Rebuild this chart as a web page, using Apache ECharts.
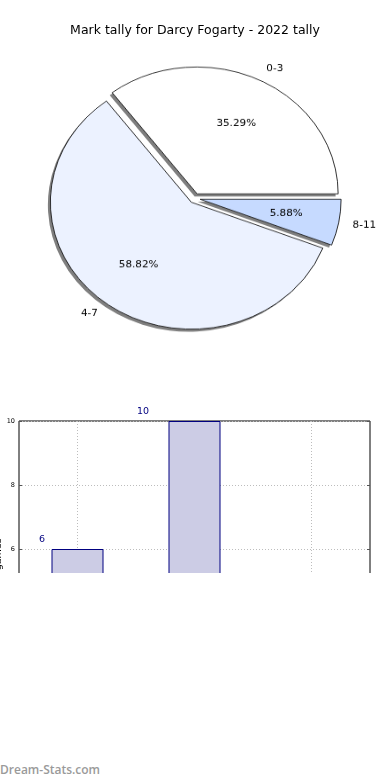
<!DOCTYPE html>
<html><head><meta charset="utf-8">
<script src="https://cdn.jsdelivr.net/npm/echarts@6/dist/echarts.min.js"></script>
<style>
html,body{margin:0;padding:0;background:#fff;width:390px;height:780px;overflow:hidden;}
#bar{position:absolute;left:0;top:0;width:390px;height:573px;}
#pie{position:absolute;left:0;top:0;width:390px;height:400px;transform:scaleY(0.9);transform-origin:195px 198.3px;}
#wm{position:absolute;left:0;top:762px;font-family:'Open Sans';font-weight:600;font-size:12px;color:#9a9a9a;line-height:16px;}
</style></head><body>
<div id="bar"></div><div id="pie"></div><div id="wm">Dream-Stats.com</div>
<script>
// ---- data ----
const chartTitle = 'Mark tally for Darcy Fogarty - 2022 tally';
const categories = ['0-3', '4-7', '8-11'];
const tallyValues = [6, 10, 1];
const yAxisName = 'Number of games';

// ---- styles ----
const sliceColors = ['#ffffff', '#ecf2ff', '#c6daff'];
const barLabelOffsetX = [-35.5, -51.5, -67.5];
const FONT = 'DejaVu Sans';

const total = tallyValues.reduce((a, b) => a + b, 0);

const pieChart = echarts.init(document.getElementById('pie'), null, {renderer: 'canvas'});
const barChart = echarts.init(document.getElementById('bar'), null, {renderer: 'canvas'});

const pieBase = {
  type: 'pie',
  center: [194.7, 198.3],
  radius: 141,
  startAngle: 0,
  clockwise: false,
  selectedMode: 'multiple',
  selectedOffset: 5.5,
  avoidLabelOverlap: false,
  emphasis: {disabled: true}
};

pieChart.setOption({
  animation: false,
  backgroundColor: 'transparent',
  series: [
    // shadow layer (drawn beneath the slices)
    Object.assign({}, pieBase, {
      z: 1, silent: true,
      itemStyle: {color: '#fff', borderWidth: 0, shadowColor: 'rgba(0,0,0,0.5)', shadowBlur: 0, shadowOffsetX: -2.5, shadowOffsetY: 2.8},
      select: {itemStyle: {color: '#fff', borderWidth: 0}},
      label: {show: false}, labelLine: {show: false},
      data: categories.map((c, i) => ({name: c, value: tallyValues[i], selected: true}))
    }),
    // slices with outside category labels
    Object.assign({}, pieBase, {
      z: 2,
      itemStyle: {borderColor: '#000', borderWidth: 0.8},
      label: {show: true, position: 'outside', formatter: '{b}', fontSize: 10.4, color: '#000', fontFamily: FONT, distanceToLabelLine: 0},
      labelLine: {show: false, length: 14.1, length2: 0},
      select: {itemStyle: {borderColor: '#000', borderWidth: 0.8}},
      data: categories.map((c, i) => ({name: c, value: tallyValues[i], selected: true, itemStyle: {color: sliceColors[i]}}))
    }),
    // percentage labels at 0.6 r
    Object.assign({}, pieBase, {
      z: 3, silent: true,
      radius: [28.2, 141],
      itemStyle: {color: 'rgba(0,0,0,0)', borderWidth: 0},
      select: {itemStyle: {color: 'rgba(0,0,0,0)', borderWidth: 0}},
      label: {
        show: true, position: 'inside', fontSize: 10.4, color: '#000', fontFamily: FONT,
        formatter: p => (p.value / total * 100).toFixed(2) + '%'
      },
      labelLine: {show: false},
      data: categories.map((c, i) => ({name: c, value: tallyValues[i], selected: true}))
    })
  ]
});

const gridLine = {color: '#bdbdbd', width: 1, type: [1, 2]};
barChart.setOption({
  animation: false,
  backgroundColor: 'transparent',
  title: {
    text: chartTitle, left: 'center', top: 19,
    textStyle: {fontSize: 12.5, fontWeight: 'normal', color: '#000', fontFamily: FONT}
  },
  grid: {left: 19, top: 421, width: 351, height: 320, show: true, borderColor: '#000', borderWidth: 1, containLabel: false, outerBoundsMode: 'none'},
  xAxis: [
    {
      type: 'category', data: categories, position: 'bottom',
      axisLine: {show: false},
      axisTick: {show: true, inside: true, alignWithLabel: true, length: 3, lineStyle: {color: '#555'}},
      splitLine: {show: true, alignWithLabel: true, lineStyle: gridLine},
      axisLabel: {fontSize: 6.5, color: '#000', fontFamily: FONT}
    },
    {
      type: 'category', data: categories, position: 'top',
      axisLine: {show: false},
      axisTick: {show: true, inside: true, alignWithLabel: true, length: 3, lineStyle: {color: '#555'}},
      splitLine: {show: false},
      axisLabel: {show: false}
    }
  ],
  yAxis: [
    {
      type: 'value', min: 0, max: 10, interval: 2, position: 'left',
      axisLine: {show: false},
      axisTick: {show: true, inside: true, length: 3, lineStyle: {color: '#555'}},
      axisLabel: {fontSize: 6.5, color: '#000', margin: 4, fontFamily: FONT},
      splitLine: {show: true, lineStyle: gridLine},
      name: yAxisName, nameLocation: 'middle', nameGap: 15, nameRotate: 90,
      nameMoveOverlap: false,
      nameTextStyle: {fontSize: 9.5, color: '#000', fontFamily: FONT}
    },
    {
      type: 'value', min: 0, max: 10, interval: 2, position: 'right',
      axisLine: {show: false},
      axisTick: {show: true, inside: true, length: 3, lineStyle: {color: '#555'}},
      axisLabel: {show: false},
      splitLine: {show: false}
    }
  ],
  series: [{
    type: 'bar', xAxisIndex: 0, yAxisIndex: 0,
    barWidth: 52,
    itemStyle: {color: '#ccccE5', borderColor: '#000080', borderWidth: 1},
    label: {show: true, position: 'top', distance: 4.5, color: '#000080', fontSize: 9.5, fontFamily: FONT},
    emphasis: {disabled: true},
    data: tallyValues.map((v, i) => ({value: v, label: {offset: [barLabelOffsetX[i], 0]}}))
  }]
});
</script></body></html>
